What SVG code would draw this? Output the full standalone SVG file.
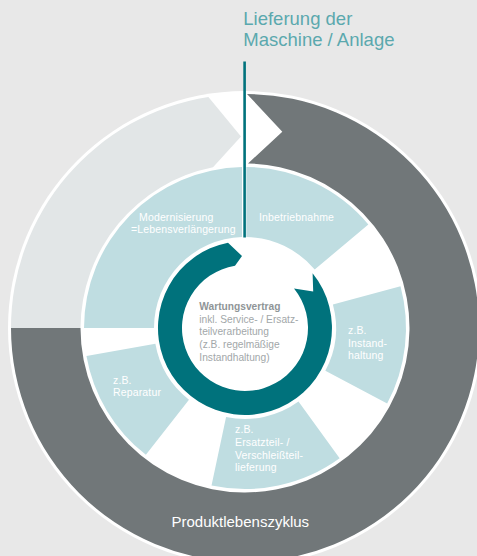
<svg xmlns="http://www.w3.org/2000/svg" width="477" height="556" viewBox="0 0 477 556">
<style>
.bg{fill:#e8e8e8}
.disc{fill:#ffffff}
.dark{fill:#717779}
.light{fill:#e2e6e7}
.seg{fill:#bfdde1}
.teal{fill:#00727c}
.lbl{font-family:"Liberation Sans",Arial,sans-serif;font-size:10.5px;fill:#ffffff;letter-spacing:0.15px}
.ctr{font-family:"Liberation Sans",Arial,sans-serif;font-size:10.2px;fill:#a2a7a9}
.ctrb{font-weight:bold;fill:#8f9597}
.top{font-family:"Liberation Sans",Arial,sans-serif;font-size:18.5px;fill:#5ba8ae}
.big{font-family:"Liberation Sans",Arial,sans-serif;font-size:15px;fill:#ffffff}
</style>
<rect class="bg" x="0" y="0" width="477" height="556"/>
<circle class="disc" cx="245" cy="328" r="237"/>

<g id="produktlebenszyklus">
<path class="dark" d="M247 94 A234 234 0 1 1 11 328 L80.5 328 A164.5 164.5 0 1 0 248 163.5 L282.3 131.7 Z"/>
<text class="big" x="171.5" y="527.3">Produktlebenszyklus</text>
</g>

<g id="modernisierung-ring">
<path class="light" d="M11 328 A234 234 0 0 1 208.4 96.9 L241 136.6 L213 167.3 A164.5 164.5 0 0 0 80.5 328 Z"/>
</g>

<g id="seg-modernisierung">
<path class="seg" d="M84 328 A161 161 0 0 1 242 167.03 L242 237.05 A91 91 0 0 0 154 328 Z"/>
<text class="lbl" x="139" y="220.5">Modernisierung</text>
<text class="lbl" x="131" y="233">=Lebensverlängerung</text>
</g>

<g id="seg-inbetriebnahme">
<path class="seg" d="M246.3 167 A161 161 0 0 1 368.33 224.51 L314.71 269.5 A91 91 0 0 0 246.3 237 Z"/>
<text class="lbl" x="259" y="220.7">Inbetriebnahme</text>
</g>

<g id="seg-instandhaltung">
<path class="seg" d="M400.51 286.33 A161 161 0 0 1 387.15 403.59 L325.35 370.72 A91 91 0 0 0 332.9 304.45 Z"/>
<text class="lbl" x="348" y="333.5">z.B.</text>
<text class="lbl" x="348" y="346.6">Instand-</text>
<text class="lbl" x="348" y="359.3">haltung</text>
</g>

<g id="seg-ersatzteil">
<path class="seg" d="M339.63 458.25 A161 161 0 0 1 211.53 485.48 L226.08 417.01 A91 91 0 0 0 298.49 401.62 Z"/>
<text class="lbl" x="235" y="433.3">z.B.</text>
<text class="lbl" x="235" y="445.9">Ersatzteil- /</text>
<text class="lbl" x="235" y="458.5">Verschleißteil-</text>
<text class="lbl" x="235" y="471.1">lieferung</text>
</g>

<g id="seg-reparatur">
<path class="seg" d="M145.88 454.87 A161 161 0 0 1 86.45 355.96 L155.38 343.8 A91 91 0 0 0 188.97 399.71 Z"/>
<text class="lbl" x="113" y="383.5">z.B.</text>
<text class="lbl" x="113" y="396">Reparatur</text>
</g>

<g id="wartungsvertrag">
<path class="teal" d="M312.6 273.3 A87 87 0 1 1 228 242.7 L242 256 L235 265.8 A63 63 0 1 0 294 288.4 L313.2 291.6 Z"/>
<text class="ctr ctrb" x="199.3" y="310.2">Wartungsvertrag</text>
<text class="ctr" x="199.3" y="322.8">inkl. Service- / Ersatz-</text>
<text class="ctr" x="199.3" y="335.4">teilverarbeitung</text>
<text class="ctr" x="199.3" y="348">(z.B. regelmäßige</text>
<text class="ctr" x="199.3" y="360.6">Instandhaltung)</text>
</g>

<g id="lieferung">
<text class="top" x="243.3" y="25">Lieferung der</text>
<text class="top" x="243.3" y="45.5">Maschine / Anlage</text>
</g>

<g id="connectors">
<line x1="244.6" y1="61.5" x2="244.6" y2="237.5" stroke="#00727c" stroke-width="2.6"/>
</g>
</svg>
